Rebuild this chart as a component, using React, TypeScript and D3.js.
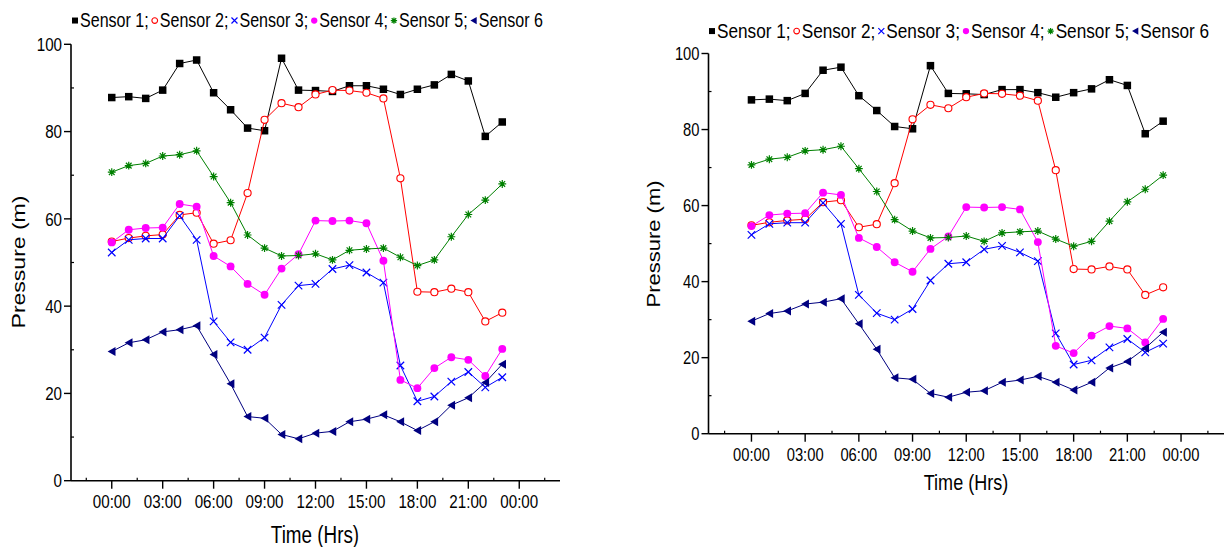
import * as d3 from "d3";
import React, { useEffect, useRef } from "react";

// hours of the day for each reading
const hours = [0, 1, 2, 3, 4, 5, 6, 7, 8, 9, 10, 11, 12, 13, 14, 15, 16, 17, 18, 19, 20, 21, 22, 23];

const sensor1 = [87.8, 88.0, 87.6, 89.5, 95.6, 96.4, 88.9, 85.0, 80.8, 80.2, 96.8, 89.5, 89.4, 89.2, 90.5, 90.5, 89.7, 88.5, 89.7, 90.7, 93.1, 91.6, 78.9, 82.2];
const sensor2 = [54.8, 55.6, 56.1, 56.4, 60.9, 61.4, 54.3, 55.1, 65.9, 82.7, 86.5, 85.6, 88.5, 89.5, 89.4, 88.9, 87.6, 69.3, 43.3, 43.2, 44.0, 43.2, 36.5, 38.5];
const sensor3 = [52.3, 55.2, 55.5, 55.5, 60.7, 55.2, 36.5, 31.7, 30.0, 32.8, 40.3, 44.7, 45.1, 48.5, 49.4, 47.7, 45.4, 26.4, 18.2, 19.3, 22.7, 24.9, 21.4, 23.7];
const sensor4 = [54.6, 57.5, 57.9, 58.0, 63.4, 62.8, 51.5, 49.1, 45.1, 42.6, 48.6, 51.9, 59.6, 59.5, 59.6, 59.0, 50.4, 23.1, 21.2, 25.8, 28.3, 27.7, 24.0, 30.2];
const sensor5 = [70.7, 72.2, 72.7, 74.4, 74.7, 75.6, 69.7, 63.7, 56.3, 53.3, 51.5, 51.6, 52.0, 50.6, 52.8, 53.1, 53.3, 51.2, 49.3, 50.6, 55.9, 61.0, 64.3, 68.0];
const sensor6 = [29.6, 31.6, 32.3, 34.1, 34.6, 35.5, 28.9, 22.2, 14.7, 14.3, 10.6, 9.6, 10.9, 11.3, 13.5, 14.1, 15.1, 13.5, 11.5, 13.5, 17.3, 19.0, 22.5, 26.7];

const seriesNames = ["Sensor 1", "Sensor 2", "Sensor 3", "Sensor 4", "Sensor 5", "Sensor 6"];

const xTicks = [0, 3, 6, 9, 12, 15, 18, 21, 24];
const xTickLabels = ["00:00", "03:00", "06:00", "09:00", "12:00", "15:00", "18:00", "21:00", "00:00"];
const xMinor = [-1.5, 1.5, 4.5, 7.5, 10.5, 13.5, 16.5, 19.5, 22.5, 25.5];
const yTicks = [0, 20, 40, 60, 80, 100];
const yMinor = [10, 30, 50, 70, 90];

const FONT = "'Liberation Sans', Arial, sans-serif";
const SQUEEZE = 0.82; // the source picture is squeezed sideways

const styles = [
  { color: "#000000", shape: "square" },
  { color: "#ff0000", shape: "circle" },
  { color: "#0000ff", shape: "cross" },
  { color: "#ff00ff", shape: "dot" },
  { color: "#008000", shape: "star" },
  { color: "#000080", shape: "triangle" },
];

interface PanelCfg {
  left: number;
  right: number;
  bottom: number;
  top: number;
  tickFont: number;
  legendX: number;
  legendY: number;
  legendFont: number;
  titleFont: number;
  xTitleX: number;
  xTitleY: number;
  yTitleX: number;
  yTitleY: number;
  marker: number;
}

const panels: PanelCfg[] = [
  {
    left: 71, right: 560, bottom: 480.7, top: 44.3,
    tickFont: 18.5, legendX: 72, legendY: 27, legendFont: 19.6,
    titleFont: 23, xTitleX: 315, xTitleY: 543, yTitleX: 25, yTitleY: 262, marker: 7.5,
  },
  {
    left: 708.5, right: 1224, bottom: 433.7, top: 53.5,
    tickFont: 18, legendX: 709, legendY: 38, legendFont: 21,
    titleFont: 22, xTitleX: 966, xTitleY: 490, yTitleX: 660, yTitleY: 244, marker: 7.5,
  },
];

type G = d3.Selection<SVGGElement, unknown, null, undefined>;

// text squeezed sideways like the source; rotated text keeps its length
function label(g: G, x: number, y: number, str: string, size: number, anchor: string, rotated = false) {
  const tf = rotated
    ? `translate(${x},${y}) rotate(-90) scale(1,${SQUEEZE})`
    : `translate(${x},${y}) scale(${SQUEEZE},1)`;
  return g.append("text").attr("transform", tf).attr("text-anchor", anchor)
    .attr("font-family", FONT).attr("font-size", size).attr("fill", "black").text(str);
}

// draw one marker shape into a group
function marker(g: G, shape: string, color: string, s: number) {
  const h = s / 2;
  if (shape === "square") {
    g.append("rect").attr("x", -h).attr("y", -h).attr("width", s).attr("height", s).attr("fill", color);
  } else if (shape === "circle") {
    g.append("circle").attr("r", h * 0.95).attr("fill", "white").attr("stroke", color).attr("stroke-width", 1.1);
  } else if (shape === "cross") {
    g.append("path").attr("d", `M${-h},${-h}L${h},${h}M${-h},${h}L${h},${-h}`).attr("stroke", color).attr("stroke-width", 1.2);
  } else if (shape === "dot") {
    g.append("circle").attr("r", h * 1.05).attr("fill", color);
  } else if (shape === "star") {
    const r = h * 1.05;
    const d = r * 0.72;
    g.append("path")
      .attr("d", `M0,${-r}L0,${r}M${-r},0L${r},0M${-d},${-d}L${d},${d}M${-d},${d}L${d},${-d}`)
      .attr("stroke", color).attr("stroke-width", 1.2);
  } else {
    g.append("path").attr("d", `M${-h * 1.1},0L${h},${-h * 1.2}L${h},${h * 1.2}Z`).attr("fill", color);
  }
}

const App: React.FC = () => {
  const svgRef = useRef<SVGSVGElement | null>(null);

  useEffect(() => {
    const svg = d3.select(svgRef.current);
    svg.selectAll("*").remove();
    const allSeries = [sensor1, sensor2, sensor3, sensor4, sensor5, sensor6];

    panels.forEach((p) => {
      const x = d3.scaleLinear().domain([-2.4, 26.4]).range([p.left, p.right]);
      const y = d3.scaleLinear().domain([0, 100]).range([p.bottom, p.top]);
      const g = svg.append("g") as G;

      // axes lines
      g.append("line").attr("x1", p.left).attr("x2", p.left).attr("y1", p.top).attr("y2", p.bottom)
        .attr("stroke", "black").attr("stroke-width", 1.6);
      g.append("line").attr("x1", p.left).attr("x2", p.right).attr("y1", p.bottom).attr("y2", p.bottom)
        .attr("stroke", "black").attr("stroke-width", 1.6);

      // y ticks
      yTicks.forEach((t) => {
        g.append("line").attr("x1", p.left - 7).attr("x2", p.left).attr("y1", y(t)).attr("y2", y(t))
          .attr("stroke", "black").attr("stroke-width", 1.4);
        label(g, p.left - 9, y(t) + p.tickFont * 0.36, String(t), p.tickFont, "end");
      });
      yMinor.forEach((t) => {
        g.append("line").attr("x1", p.left).attr("x2", p.left + 3).attr("y1", y(t)).attr("y2", y(t))
          .attr("stroke", "black").attr("stroke-width", 1.2);
      });

      // x ticks
      xTicks.forEach((t, i) => {
        g.append("line").attr("x1", x(t)).attr("x2", x(t)).attr("y1", p.bottom).attr("y2", p.bottom + 8)
          .attr("stroke", "black").attr("stroke-width", 1.4);
        label(g, x(t), p.bottom + 27, xTickLabels[i], p.tickFont, "middle");
      });
      xMinor.forEach((t) => {
        g.append("line").attr("x1", x(t)).attr("x2", x(t)).attr("y1", p.bottom).attr("y2", p.bottom - 3)
          .attr("stroke", "black").attr("stroke-width", 1.2);
      });

      // titles
      label(g, p.xTitleX, p.xTitleY, "Time (Hrs)", p.titleFont, "middle");
      label(g, p.yTitleX, p.yTitleY, "Pressure (m)", p.titleFont, "middle", true);

      // series
      const line = d3.line<number>().x((_, i) => x(hours[i])).y((d) => y(d));
      allSeries.forEach((vals, si) => {
        const st = styles[si];
        g.append("path").attr("d", line(vals)!).attr("fill", "none").attr("stroke", st.color).attr("stroke-width", 1);
        vals.forEach((v, i) => {
          const m = g.append("g").attr("transform", `translate(${x(hours[i])},${y(v)})`) as G;
          marker(m, st.shape, st.color, p.marker);
        });
      });

      // legend
      let cx = p.legendX;
      seriesNames.forEach((name, si) => {
        const st = styles[si];
        const m = g.append("g").attr("transform", `translate(${cx + 3},${p.legendY - p.legendFont * 0.33})`) as G;
        marker(m, st.shape, st.color, 6);
        const str = si < seriesNames.length - 1 ? `${name};` : name;
        const txt = label(g, cx + 8, p.legendY, str, p.legendFont, "start");
        const w = (txt.node() as SVGTextElement).getComputedTextLength() * SQUEEZE;
        cx += 8 + w + 3;
      });
    });
  }, []);

  return (
    <div style={{ position: "absolute", left: 0, top: 0 }}>
      <svg ref={svgRef} width={1224} height={547} style={{ display: "block", background: "white" }}></svg>
    </div>
  );
};

export default App;
